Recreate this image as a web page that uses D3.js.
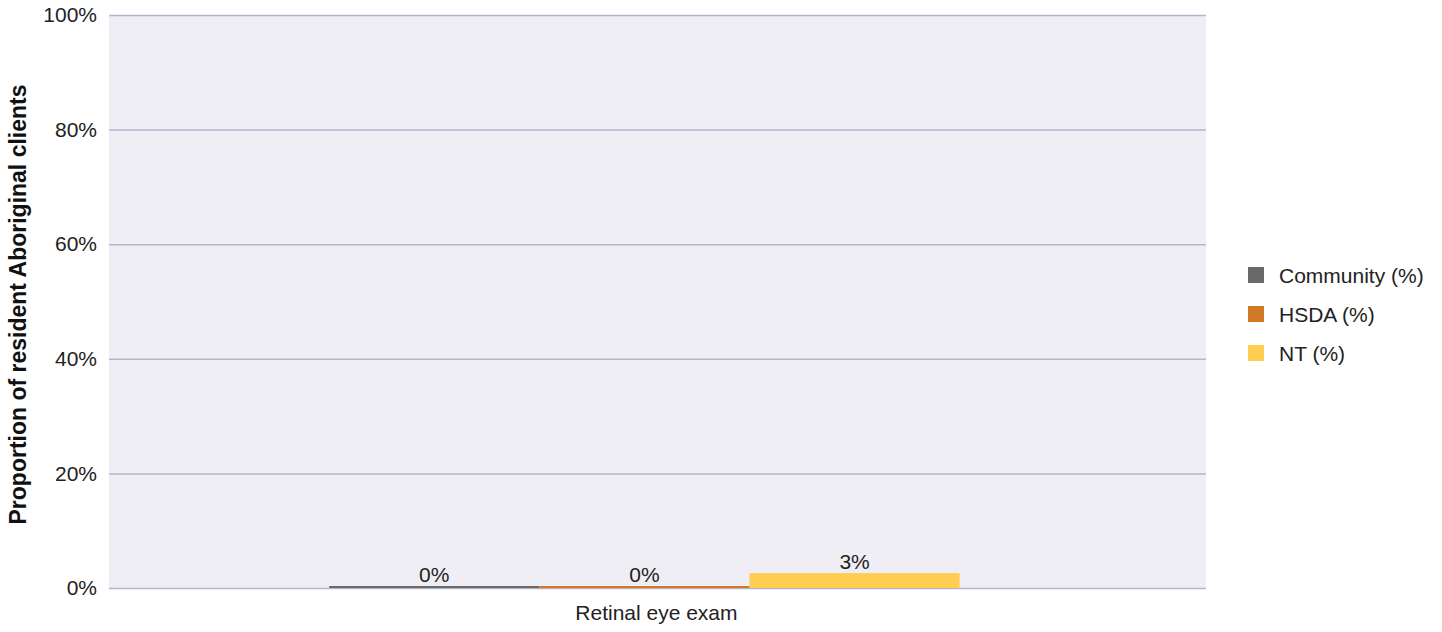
<!DOCTYPE html>
<html><head><meta charset="utf-8">
<script src="https://cdn.jsdelivr.net/npm/d3@7"></script>
<style>
body{margin:0;background:#fff;}
text{font-family:"Liberation Sans",Arial,sans-serif;fill:#222;}
</style></head>
<body>
<svg id="chart" width="1442" height="632"></svg>
<script>
const categories = ["Retinal eye exam"];
const seriesNames = ["Community (%)", "HSDA (%)", "NT (%)"];
const community = [0];
const hsda = [0];
const nt = [2.6];
const valueLabels = [["0%"], ["0%"], ["3%"]];
const yTicks = [0, 20, 40, 60, 80, 100];
const colors = ["#696969", "#d07a27", "#ffcd52"];
const seriesValues = [community, hsda, nt];

const svg = d3.select("#chart");
const m = {left:109, right:1206, top:15, bottom:588};

const y = d3.scaleLinear().domain([0,100]).range([m.bottom, m.top]);
const x0 = d3.scaleBand().domain(categories).range([m.left, m.right])
  .paddingInner(0).paddingOuter(0.37).align(0.472);
const x1 = d3.scaleBand().domain(seriesNames).range([0, x0.bandwidth()]).padding(0);

svg.append("rect").attr("x", m.left).attr("y", m.top)
  .attr("width", m.right - m.left).attr("height", m.bottom - m.top)
  .attr("fill", "#efeef4");

const yAxis = d3.axisLeft(y).tickValues(yTicks).tickFormat(d => d + "%")
  .tickSize(-(m.right - m.left)).tickPadding(12);
const gy = svg.append("g").attr("transform", `translate(${m.left},0)`).call(yAxis);
gy.select(".domain").remove();
gy.selectAll(".tick line").attr("stroke", "#b6b5cb").attr("stroke-width", 1.5);
gy.selectAll(".tick text").attr("font-size", 21).attr("font-family", null).style("fill", "#222");

const groups = svg.append("g").selectAll("g").data(categories).join("g")
  .attr("transform", d => `translate(${x0(d)},0)`);

seriesNames.forEach((s, si) => {
  groups.append("rect")
    .attr("x", x1(s))
    .attr("width", x1.bandwidth())
    .attr("y", (d, ci) => Math.min(y(seriesValues[si][ci]), m.bottom - 2))
    .attr("height", (d, ci) => Math.max(m.bottom - y(seriesValues[si][ci]), 2))
    .attr("fill", colors[si]);
  groups.append("text")
    .attr("x", x1(s) + x1.bandwidth() / 2)
    .attr("y", (d, ci) => Math.min(y(seriesValues[si][ci]), m.bottom - 2) - 4)
    .attr("text-anchor", "middle").attr("font-size", 21)
    .text((d, ci) => valueLabels[si][ci]);
});

// x axis labels
svg.append("g").selectAll("text").data(categories).join("text")
  .attr("x", d => x0(d) + x0.bandwidth() / 2 + 12)
  .attr("y", 620).attr("text-anchor", "middle").attr("font-size", 21)
  .text(d => d);

// y title
svg.append("text")
  .attr("transform", `translate(26,${(m.top + m.bottom) / 2 + 3}) rotate(-90)`)
  .attr("text-anchor", "middle").attr("font-size", 23).attr("font-weight", "bold")
  .style("fill", "#111")
  .text("Proportion of resident Aboriginal clients");

// legend
const lg = svg.append("g").attr("transform", "translate(1248,267)");
const li = lg.selectAll("g").data(seriesNames).join("g")
  .attr("transform", (d, i) => `translate(0,${i * 39})`);
li.append("rect").attr("width", 16).attr("height", 16).attr("fill", (d, i) => colors[i]);
li.append("text").attr("x", 31).attr("y", 16).attr("font-size", 21).text(d => d);
</script>
</body></html>
